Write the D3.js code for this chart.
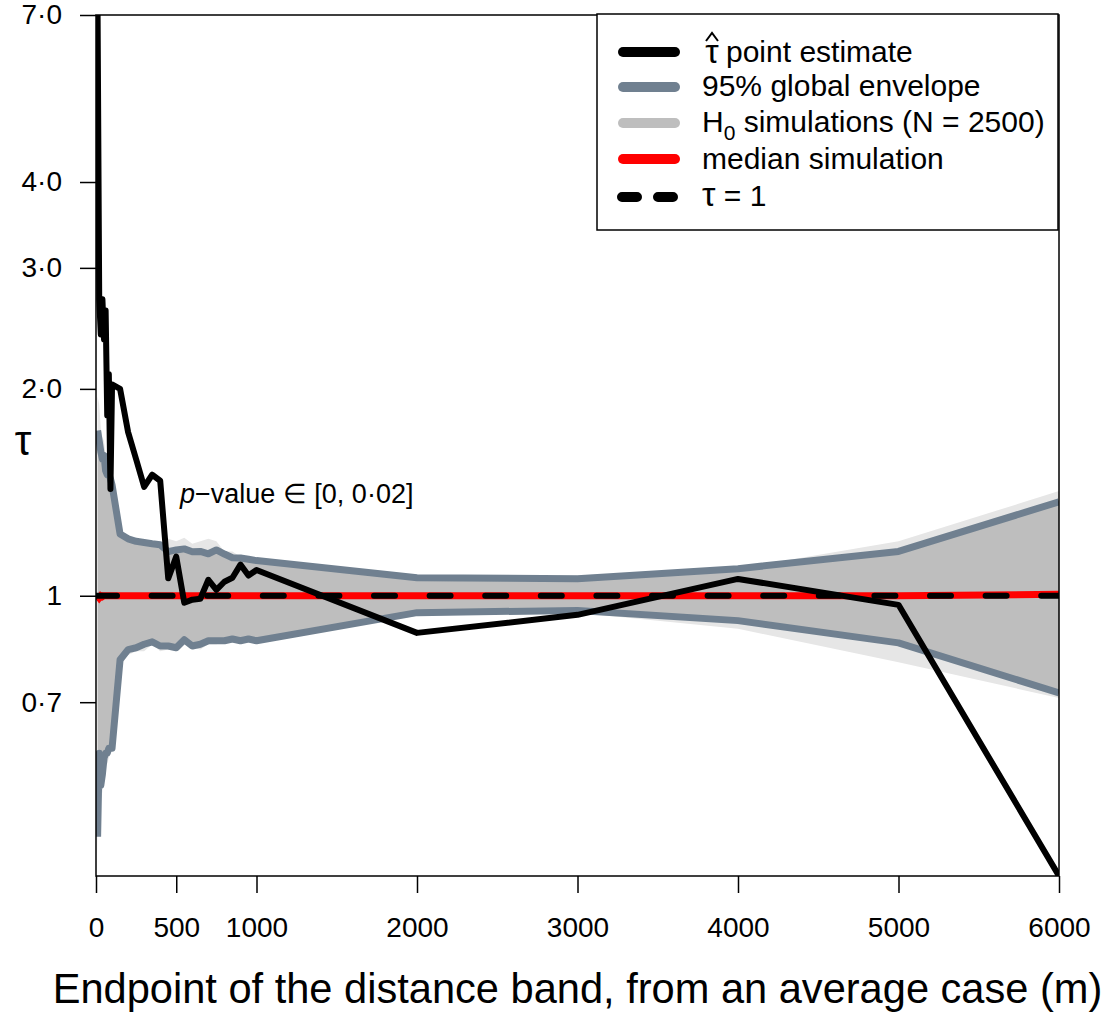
<!DOCTYPE html>
<html><head><meta charset="utf-8">
<script src="https://cdn.jsdelivr.net/npm/d3@7"></script>
<style>body{margin:0;background:#fff}svg{display:block;font-family:"Liberation Sans",Arial,sans-serif}</style>
</head><body><svg id="c" width="1115" height="1016"></svg>
<script>
// distances (m)
const distances = [10,20,30,40,50,60,70,80,90,100,150,200,250,300,350,400,450,500,550,600,650,700,750,800,850,900,950,1000,2000,3000,4000,5000,6000];
// tau-hat point estimate
const estimate = [7.0,2.7,2.4,2.7,2.36,2.6,1.83,2.1,1.43,2.03,2.0,1.73,1.58,1.44,1.50,1.47,1.06,1.14,0.977,0.987,0.99,1.055,1.02,1.048,1.062,1.11,1.07,1.09,0.883,0.938,1.058,0.97,0.391];
// 95% global envelope
const envUpper = [1.74,1.68,1.62,1.58,1.6,1.52,1.5,1.5,1.48,1.45,1.23,1.21,1.2,1.195,1.19,1.186,1.159,1.166,1.17,1.159,1.16,1.151,1.166,1.15,1.136,1.135,1.13,1.125,1.062,1.059,1.095,1.16,1.37];
const envLower = [0.446,0.59,0.53,0.55,0.58,0.59,0.59,0.60,0.60,0.60,0.807,0.835,0.84,0.85,0.857,0.845,0.845,0.84,0.863,0.845,0.85,0.86,0.86,0.86,0.865,0.86,0.865,0.86,0.945,0.952,0.92,0.854,0.722];
// extremes of the H0 simulations
const simMax = [1.95,1.9,1.75,1.7,1.68,1.6,1.55,1.52,1.5,1.47,1.25,1.22,1.21,1.2,1.2,1.19,1.21,1.2,1.215,1.19,1.2,1.21,1.2,1.16,1.16,1.14,1.14,1.13,1.065,1.07,1.095,1.2,1.42];
const simMin = [0.42,0.56,0.5,0.52,0.56,0.57,0.57,0.58,0.59,0.6,0.79,0.82,0.83,0.83,0.85,0.83,0.835,0.83,0.85,0.84,0.835,0.85,0.85,0.855,0.855,0.855,0.86,0.855,0.935,0.945,0.895,0.80,0.71];
// median simulation
const median = [1.0,0.993,1.0,0.997,1.0,1.0,1.0,1.0,1.0,1.0,1.0,1.0,1.0,1.0,1.0,1.0,1.0,1.0,1.0,1.0,1.0,1.0,1.0,1.0,1.0,1.0,1.0,1.0,1.0,1.0,1.0,1.0,1.005];
// ticks
const xTicks = [0,500,1000,2000,3000,4000,5000,6000];
const yTicks = [0.7,1,2,3,4,7];
const yTickLabels = ["0·7","1","2·0","3·0","4·0","7·0"];
const legendLabels = ["point estimate","95% global envelope","simulations (N = 2500)","median simulation","= 1"];

const svg = d3.select("#c");
const L=96,R=1059,T=15,B=876;
const x = d3.scaleLinear().domain([0,6000]).range([L,R]);
const y = d3.scaleLog().domain([0.391,7.0]).range([B,T]);

svg.append("defs").append("clipPath").attr("id","clip")
  .append("rect").attr("x",L).attr("y",T).attr("width",R-L).attr("height",B-T);
const g = svg.append("g").attr("clip-path","url(#clip)");

const idx = d3.range(distances.length);
const area = (hi,lo)=>d3.area().x(i=>x(distances[i])).y0(i=>y(lo[i])).y1(i=>y(hi[i]));
const line = (arr)=>d3.line().x(i=>x(distances[i])).y(i=>y(arr[i]));

g.append("path").attr("d",area(simMax,simMin)(idx)).attr("fill","#e6e6e6");
g.append("path").attr("d",area(envUpper,envLower)(idx)).attr("fill","#bebebe");
[envUpper,envLower].forEach(a=>g.append("path").attr("d",line(a)(idx)).attr("fill","none")
  .attr("stroke","#708090").attr("stroke-width",7).attr("stroke-linejoin","round"));
g.append("path").attr("d",line(median)(idx)).attr("fill","none").attr("stroke","#ff0000").attr("stroke-width",7);
g.append("line").attr("x1",x(0)).attr("x2",x(6000)).attr("y1",y(1)).attr("y2",y(1))
  .attr("stroke","#000").attr("stroke-width",6).attr("stroke-dasharray","21,34.6").attr("stroke-linecap","round");
g.append("path").attr("d",line(estimate)(idx)).attr("fill","none").attr("stroke","#000")
  .attr("stroke-width",6).attr("stroke-linejoin","round");

// box
svg.append("rect").attr("x",L).attr("y",T).attr("width",R-L).attr("height",B-T)
  .attr("fill","none").attr("stroke","#000").attr("stroke-width",1.5);

// y axis
const ya = svg.append("g").attr("transform",`translate(${L},0)`)
  .call(d3.axisLeft(y).tickValues(yTicks).tickSize(16).tickPadding(18).tickFormat((d,i)=>yTickLabels[i]));
ya.select(".domain").remove();
ya.selectAll("line").attr("stroke-width",1.5);
ya.selectAll("text").attr("font-size",28).attr("font-family","Liberation Sans, Arial, sans-serif").attr("fill","#000");

// x axis
const xa = svg.append("g").attr("transform",`translate(0,${B})`)
  .call(d3.axisBottom(x).tickValues(xTicks).tickSize(17).tickPadding(24).tickFormat(d3.format("d")));
xa.select(".domain").remove();
xa.selectAll("line").attr("stroke-width",1.5);
xa.selectAll("text").attr("font-size",28).attr("font-family","Liberation Sans, Arial, sans-serif").attr("fill","#000");

// axis titles
svg.append("text").attr("x",(L+R)/2).attr("y",1003).attr("text-anchor","middle")
  .attr("font-size",41.6).text("Endpoint of the distance band, from an average case (m)");
svg.append("text").attr("x",23).attr("y",455).attr("text-anchor","middle")
  .attr("font-size",42).text("τ");

// p-value annotation
const pv = svg.append("text").attr("x",180).attr("y",503).attr("font-size",27);
pv.append("tspan").attr("font-style","italic").text("p");
pv.append("tspan").text("−value ∈ [0, 0·02]");

// legend
const lg = svg.append("g");
lg.append("rect").attr("x",597).attr("y",14).attr("width",461).attr("height",216)
  .attr("fill","#fff").attr("stroke","#000").attr("stroke-width",1.5);
const rows=[52,87,123,159,197];
const lcol=["#000","#708090","#bebebe","#ff0000","#000"];
rows.forEach((ry,i)=>{
  const ln = lg.append("line").attr("x1",623).attr("x2",675).attr("y1",ry).attr("y2",ry)
    .attr("stroke",lcol[i]).attr("stroke-width",10).attr("stroke-linecap","round");
  if(i===4) ln.attr("stroke-dasharray","15,21").attr("x1",622).attr("x2",676);
});
const fs=30;
// row 1: tau with hat (hat drawn as a small chevron)
lg.append("text").attr("x",712).attr("y",rows[0]+11).attr("font-size",34).attr("text-anchor","middle").text("τ");
lg.append("path").attr("d","M706,41L712,33L718,41").attr("fill","none").attr("stroke","#000").attr("stroke-width",2);
lg.append("text").attr("x",726).attr("y",rows[0]+10).attr("font-size",fs).text(legendLabels[0]);
lg.append("text").attr("x",702).attr("y",rows[1]+9).attr("font-size",fs).text(legendLabels[1]);
const h0 = lg.append("text").attr("x",702).attr("y",rows[2]+9).attr("font-size",fs);
h0.append("tspan").text("H");
h0.append("tspan").attr("font-size",21).attr("dy",8).text("0");
h0.append("tspan").attr("dy",-8).text(" "+legendLabels[2]);
lg.append("text").attr("x",702).attr("y",rows[3]+10).attr("font-size",fs).text(legendLabels[3]);
const t1 = lg.append("text").attr("x",702).attr("y",rows[4]+9).attr("font-size",fs);
t1.append("tspan").attr("font-size",34).text("τ");
t1.append("tspan").text(" "+legendLabels[4]);
</script></body></html>
